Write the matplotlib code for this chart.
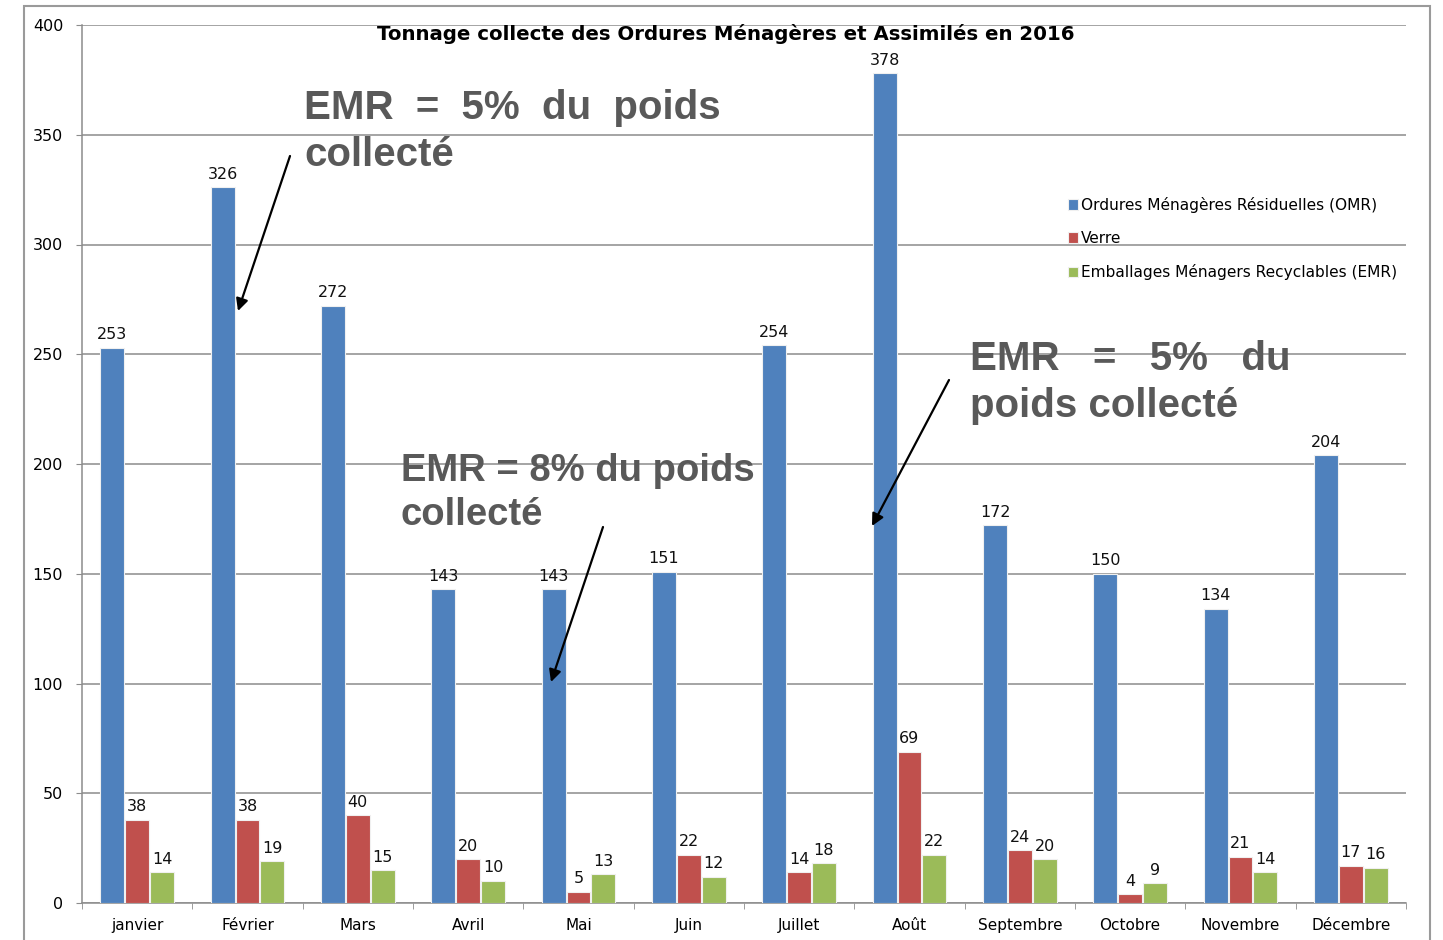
import matplotlib
matplotlib.use("Agg")
import matplotlib.pyplot as plt
import numpy as np
from matplotlib.patches import Rectangle

# --- data ---
months = ["janvier", "Février", "Mars", "Avril", "Mai", "Juin", "Juillet",
          "Août", "Septembre", "Octobre", "Novembre", "Décembre"]
omr = [253, 326, 272, 143, 143, 151, 254, 378, 172, 150, 134, 204]
verre = [38, 38, 40, 20, 5, 22, 14, 69, 24, 4, 21, 17]
emr = [14, 19, 15, 10, 13, 12, 18, 22, 20, 9, 14, 16]

series_names = ["Ordures Ménagères Résiduelles (OMR)", "Verre",
                "Emballages Ménagers Recyclables (EMR)"]
colors = ["#4F81BD", "#C0504D", "#9BBB59"]
title = "Tonnage collecte des Ordures Ménagères et Assimilés en 2016"

W, H = 1443, 940


def fx(px):
    return px / W


def fy(py):
    return 1 - py / H


fig = plt.figure(figsize=(W / 100, H / 100), dpi=100)
ax = fig.add_axes([fx(82), fy(903), fx(1406) - fx(82), fy(25) - fy(903)])

x = np.arange(len(months))
width = 0.215
offsets = [-0.225, 0, 0.225]
for vals, off, col, name in zip([omr, verre, emr], offsets, colors, series_names):
    bars = ax.bar(x + off, vals, width, color=col, label=name, zorder=3,
                  edgecolor="#f0f0f0", linewidth=0.8)
    ax.bar_label(bars, padding=4, fontsize=11.5, color="#111111")

ax.set_xlim(-0.5, len(months) - 0.5)
ax.set_ylim(0, 400)
ax.set_yticks(np.arange(0, 401, 50))
ax.yaxis.grid(True, color="#8c8c8c", linewidth=1.1, zorder=0)
ax.tick_params(axis="y", length=4.5, color="#8c8c8c", labelsize=11.5, pad=9)

ax.set_xticks(x)
ax.set_xticklabels(months, fontsize=11)
ax.set_xticks(np.arange(-0.5, len(months)), minor=True)
ax.tick_params(axis="x", which="major", length=0, pad=11)
ax.tick_params(axis="x", which="minor", length=4.5, color="#8c8c8c")

for s in ["top", "right"]:
    ax.spines[s].set_visible(False)
for s in ["left", "bottom"]:
    ax.spines[s].set_color("#8c8c8c")
    ax.spines[s].set_linewidth(1.1)

fig.text(fx(726), fy(34), title, ha="center", va="center",
         fontsize=14.2, fontweight="bold")

ax.legend(loc="upper left", bbox_to_anchor=(fx(1068), fy(197)),
          bbox_transform=fig.transFigure, frameon=False, fontsize=11.1,
          handlelength=0.65, handleheight=0.65, handletextpad=0.2,
          labelspacing=1.17, borderpad=0, borderaxespad=0)

# big grey annotations
note_kw = dict(fontweight="bold", color="#595959", family="Liberation Sans",
               ha="left", va="top", linespacing=1.3)
fig.text(fx(304), fy(89), "EMR  =  5%  du  poids\ncollecté", fontsize=29, **note_kw)
fig.text(fx(401), fy(453), "EMR = 8% du poids\ncollecté", fontsize=27.5, **note_kw)
fig.text(fx(970), fy(340), "EMR   =   5%   du\npoids collecté", fontsize=29, **note_kw)

arrows = [((290, 156), (238, 311)),
          ((603, 527), (551, 682)),
          ((949, 380), (872, 526))]
for (tx, ty), (hx, hy) in arrows:
    ax.annotate("", xy=(fx(hx), fy(hy)), xytext=(fx(tx), fy(ty)),
                xycoords="figure fraction", textcoords="figure fraction",
                arrowprops=dict(arrowstyle="-|>", color="black", lw=1.6,
                                mutation_scale=18, shrinkA=0, shrinkB=0))

# outer chart frame
fig.patches.append(Rectangle((fx(24), fy(960)), fx(1430) - fx(24), fy(6) - fy(960),
                             transform=fig.transFigure, fill=False,
                             edgecolor="#9a9a9a", linewidth=1.5))

fig.savefig("out.png", dpi=100)
